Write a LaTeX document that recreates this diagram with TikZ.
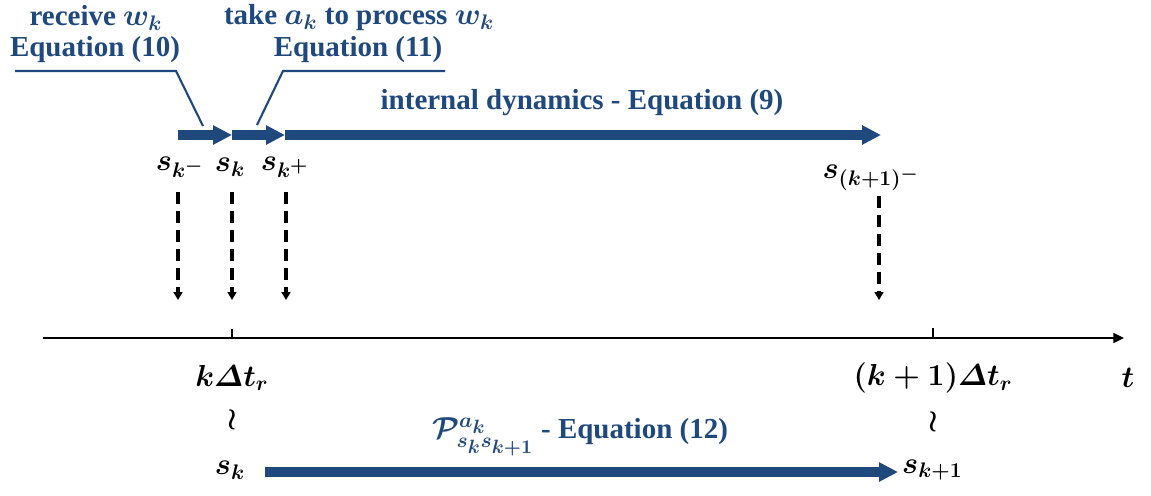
\documentclass[tikz,border=0pt]{standalone}
\usepackage{fontspec}
\usepackage{amsmath, amssymb}
\usetikzlibrary{arrows.meta, positioning}
\newfontfamily\eqfont{Liberation Serif}
\definecolor{eqblue}{RGB}{31,73,125}
\DeclareMathSizes{16.5}{17.5}{13}{10.5}

\begin{document}
\begin{tikzpicture}[x=0.02cm, y=-0.02cm]
  \tikzstyle{eqtext} = [text=eqblue, inner sep=1pt, font=\eqfont\bfseries\fontsize{16.5}{19}\selectfont\boldmath]
  \tikzstyle{state} = [inner sep=1pt, font=\fontsize{16.5}{19}\selectfont\boldmath]
  \tikzstyle{flow} = [draw=eqblue, line width=5.7pt, -{Triangle[length=10.8pt, width=10.4pt]}]
  \tikzstyle{callout} = [draw=eqblue, line width=1.2pt]
  \tikzstyle{drop} = [draw, line width=1.9pt, dash pattern=on 6.8pt off 4pt, -{Triangle[length=4.5pt, width=5pt]}]
  \tikzstyle{axis} = [draw, line width=1.2pt, -{Triangle[length=6pt, width=5.5pt]}]

  \useasboundingbox (0,0) rectangle (1151,495);

  \node[eqtext] (recv) at (96,18) {receive $w_k$};
  \node[eqtext] (eq10) at (95,50) {Equation (10)};
  \node[eqtext] (take) at (359,18) {take $a_k$ to process $w_k$};
  \node[eqtext] (eq11) at (358,50) {Equation (11)};
  \node[eqtext] (intdyn) at (582,103) {internal dynamics - Equation (9)};

  \coordinate (a0) at (178,135);
  \coordinate (a1) at (232,135);
  \coordinate (a2) at (285,135);
  \coordinate (a3) at (881,135);
  \draw[flow] (a0) -- (a1);
  \draw[flow] (a1) -- (a2);
  \draw[flow] (a2) -- (a3);

  \coordinate (u10a) at (15,71);
  \coordinate (u10b) at (176,71);
  \coordinate (u10c) at (203,126);
  \coordinate (u11a) at (445,71);
  \coordinate (u11b) at (283,71);
  \coordinate (u11c) at (257,125);
  \draw[callout] (u10a) -- (u10b) -- (u10c);
  \draw[callout] (u11a) -- (u11b) -- (u11c);

  \node[state] (skm) at (180,167) {$s_{k^-}$};
  \node[state] (sk) at (230,167) {$s_k$};
  \node[state] (skp) at (285,167) {$s_{k^+}$};
  \node[state] (sk1m) at (871,178) {$s_{(k+1)^-}$};

  \foreach \n/\x/\y in {1/178/192, 2/232/192, 3/286/192, 4/879/196}{
    \coordinate (top\n) at (\x,\y);
    \coordinate (bot\n) at (\x,300);
    \draw[drop] (top\n) -- (bot\n);
  }

  \coordinate (ax0) at (43,338);
  \coordinate (ax1) at (1124,338);
  \draw[axis] (ax0) -- (ax1);
  \coordinate (tk1) at (232,329);
  \coordinate (tk2) at (933,328);
  \draw[line width=1.2pt] (tk1) -- (tk1 |- ax0);
  \draw[line width=1.2pt] (tk2) -- (tk2 |- ax0);

  \node[state] (kdt) at (232,378) {$k\varDelta t_r$};
  \node[state] (k1dt) at (933,378) {$(k+1)\varDelta t_r$};
  \node[state] (tlab) at (1128,378) {$t$};
  \node[state] (wr1) at (232,420) {$\wr$};
  \node[state] (wr2) at (933,422) {$\wr$};

  \node[state] (skb) at (230,470) {$s_k$};
  \node[state, anchor=west] (sk1b) at (900,470) {$s_{k+1}$};
  \coordinate (b0) at (265,472);
  \coordinate (b1) at (898,472);
  \draw[flow, line width=5.2pt] (b0) -- (b1);
  \node[eqtext] (ptrans) at (580,437) {$\mathcal{P}^{a_k}_{s_k s_{k+1}}$ - Equation (12)};
\end{tikzpicture}
\end{document}
